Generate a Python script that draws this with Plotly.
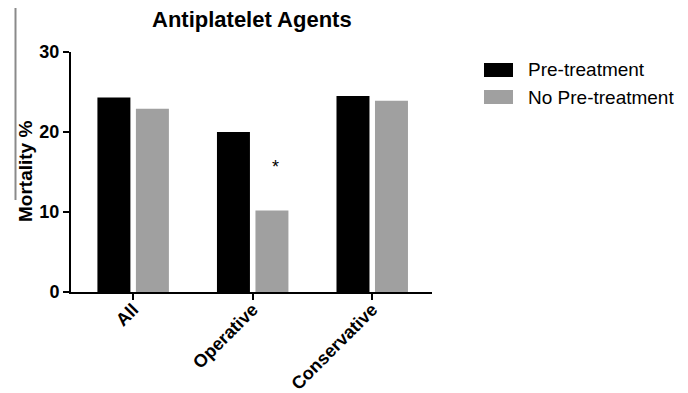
import plotly.graph_objects as go

categories = ["All", "Operative", "Conservative"]
pre_treatment = [24.3, 20.0, 24.5]
no_pre_treatment = [22.9, 10.2, 23.9]
series_names = ["Pre-treatment", "No Pre-treatment"]
series_colors = ["#000000", "#A0A0A0"]
y_ticks = [0, 10, 20, 30]
y_title = "Mortality %"
sig_label = "*"
sig_value = 15.6

FONT = "Liberation Sans, Arial, sans-serif"
W, H = 688, 393
OFF = 8  # page body margin offset
L, R, T, B = 71 - OFF, 256 + OFF, 52 - OFF, 101 + OFF
PW, PH = W - L - R, H - T - B

def px_x(x):
    return (x - OFF - L) / PW

def px_y(y):
    return (H - B - (y - OFF)) / PH

fig = go.Figure()
for name, vals, col in zip(series_names, [pre_treatment, no_pre_treatment], series_colors):
    fig.add_trace(go.Bar(x=categories, y=vals, name=name,
                         marker=dict(color=col, line=dict(width=0))))

fig.add_annotation(x=categories[1], y=sig_value, xref="x", yref="y",
                   text=sig_label, showarrow=False, xshift=23,
                   font=dict(family=FONT, size=18, color="#000"))

# y axis title
fig.add_annotation(xref="paper", yref="paper", x=px_x(25), y=px_y(172),
                   xanchor="center", yanchor="middle", showarrow=False,
                   textangle=-90, text="<b>%s</b>" % y_title,
                   font=dict(family=FONT, size=19, color="#000"))

# chart title (as annotation so it is not clipped)
fig.add_annotation(xref="paper", yref="paper", x=px_x(252), y=px_y(19),
                   xanchor="center", yanchor="middle", showarrow=False,
                   text="<b>Antiplatelet Agents</b>",
                   font=dict(family=FONT, size=22, color="#000"))

# manual legend (wide rounded swatches like the reference)
for i, (name, col) in enumerate(zip(series_names, series_colors)):
    cy = 70 + i * 27
    fig.add_shape(type="rect", xref="paper", yref="paper",
                  x0=px_x(484), x1=px_x(513), y0=px_y(cy + 7), y1=px_y(cy - 7),
                  fillcolor=col, line=dict(width=0))
    fig.add_annotation(xref="paper", yref="paper", x=px_x(526), y=px_y(cy),
                       xanchor="left", yanchor="middle", showarrow=False,
                       text=name, font=dict(family=FONT, size=19, color="#000"))

# faint scan line artifact on the left
fig.add_shape(type="line", xref="paper", yref="paper",
              x0=px_x(15.5), x1=px_x(15.5), y0=px_y(200), y1=px_y(8),
              line=dict(color="#8a8a8a", width=2), layer="above")

fig.update_layout(
    width=W, height=H,
    margin=dict(l=L, r=R, t=T, b=B, autoexpand=False),
    paper_bgcolor="white", plot_bgcolor="white",
    barmode="group", bargap=0.356, bargroupgap=0.143,
    font=dict(family=FONT, color="#000"),
    showlegend=False,
    xaxis=dict(range=[-0.52, 2.5], showline=True, linecolor="#000", linewidth=2,
               ticks="outside", ticklen=6, tickwidth=2, tickcolor="#000",
               tickangle=-45, showgrid=False, zeroline=False, automargin=False,
               ticklabelstandoff=-8,
               tickfont=dict(family=FONT, size=18, color="#000"),
               tickvals=categories,
               ticktext=["<b>%s</b>" % c for c in categories]),
    yaxis=dict(range=[0, 30], tickvals=y_ticks,
               ticktext=["<b>%d</b>" % v for v in y_ticks],
               showline=True, linecolor="#000", linewidth=2,
               ticks="outside", ticklen=6, tickwidth=2, tickcolor="#000",
               showgrid=False, zeroline=False, automargin=False,
               tickfont=dict(family=FONT, size=18, color="#000")),
)

fig.write_html("out.html")
